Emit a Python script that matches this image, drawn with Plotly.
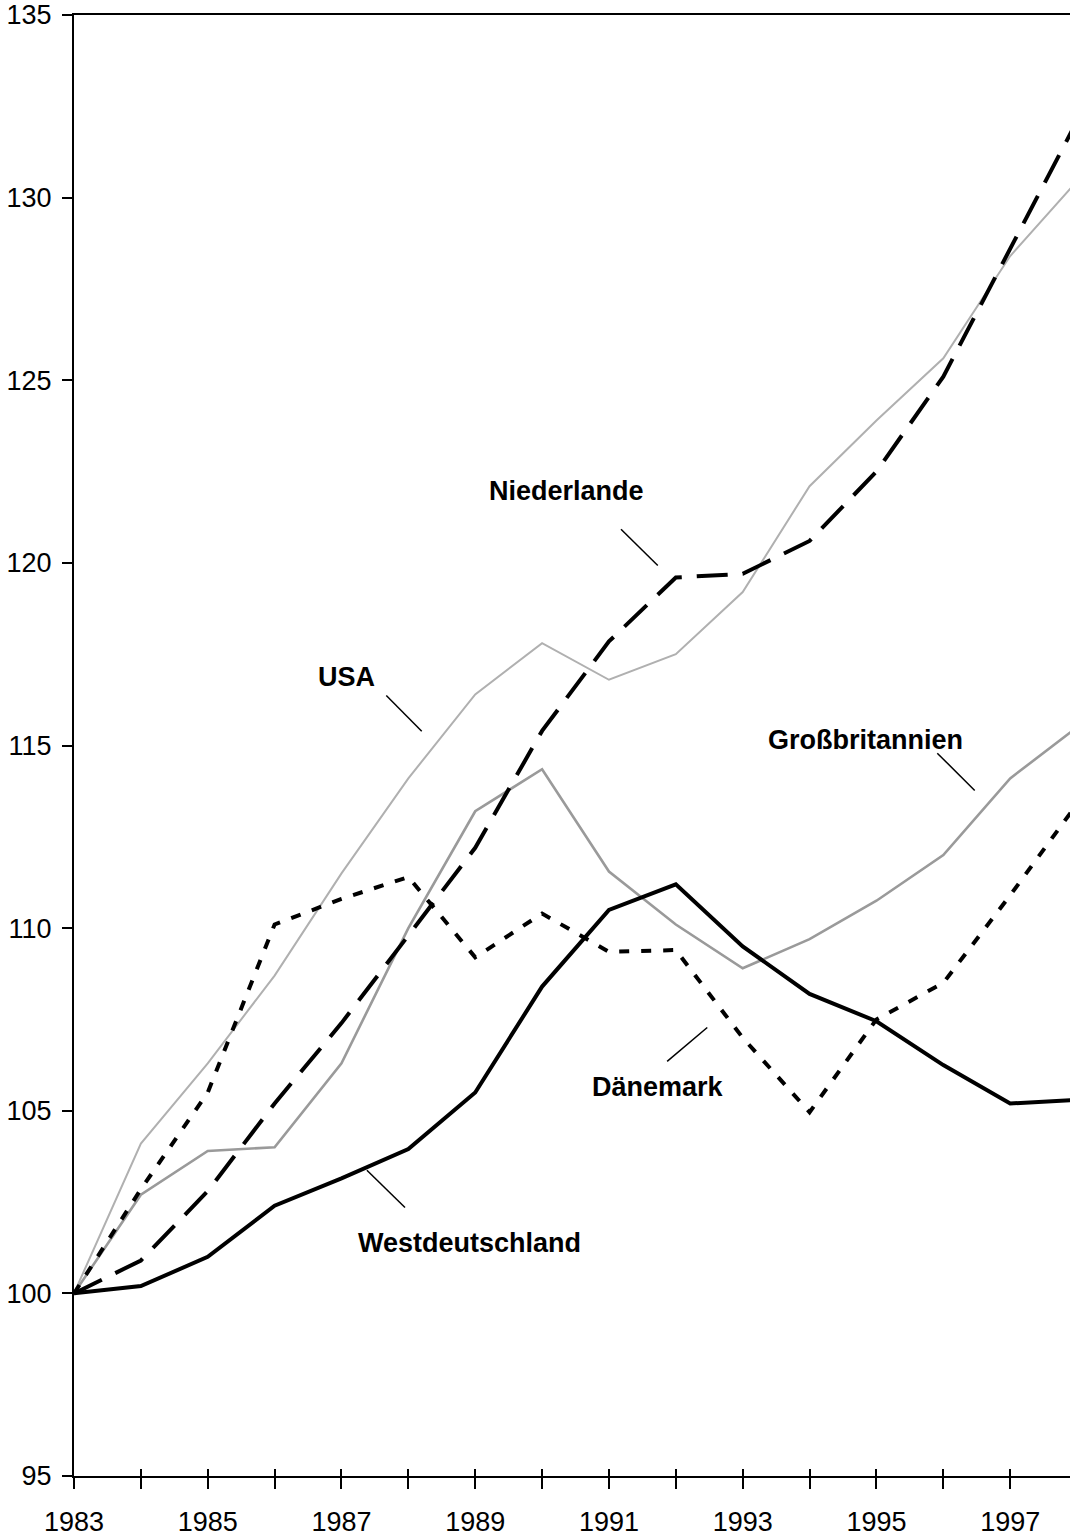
import plotly.graph_objects as go

years = list(range(1983, 1999))
westdeutschland = [100, 100.2, 101.0, 102.4, 103.15, 103.95, 105.5, 108.4, 110.5, 111.2, 109.5, 108.2, 107.45, 106.25, 105.2, 105.3]
niederlande = [100, 100.9, 102.8, 105.2, 107.4, 109.8, 112.2, 115.4, 117.85, 119.6, 119.7, 120.6, 122.5, 125.1, 128.6, 132.1]
usa = [100, 104.1, 106.3, 108.7, 111.5, 114.1, 116.4, 117.8, 116.8, 117.5, 119.2, 122.1, 123.9, 125.6, 128.4, 130.45]
grossbritannien = [100, 102.7, 103.9, 104.0, 106.3, 110.0, 113.2, 114.35, 111.55, 110.1, 108.9, 109.7, 110.75, 112.0, 114.1, 115.5]
daenemark = [100, 102.85, 105.5, 110.1, 110.8, 111.4, 109.2, 110.4, 109.35, 109.4, 107.0, 104.96, 107.5, 108.5, 110.9, 113.4]

x_tick_labels = [str(y) if (y - 1983) % 2 == 0 else "" for y in years]
y_ticks = [95, 100, 105, 110, 115, 120, 125, 130, 135]

# label texts, positions (data coords) and leader lines
labels = [
    ("Niederlande", 1990.37, 121.96, (1991.18, 120.92, 1991.73, 119.93)),
    ("USA", 1987.08, 116.87, (1987.67, 116.37, 1988.20, 115.39)),
    ("Großbritannien", 1994.84, 115.14, (1995.91, 114.79, 1996.47, 113.77)),
    ("Dänemark", 1991.73, 105.64, (1992.47, 107.28, 1991.87, 106.35)),
    ("Westdeutschland", 1988.92, 101.37, (1987.38, 103.37, 1987.95, 102.35)),
]

FONT = "Liberation Sans, Arial, Helvetica, sans-serif"

fig = go.Figure()
fig.add_trace(go.Scatter(x=years, y=usa, mode="lines",
                         line=dict(color="#b0b0b0", width=2), name="USA"))
fig.add_trace(go.Scatter(x=years, y=grossbritannien, mode="lines",
                         line=dict(color="#9a9a9a", width=2.6), name="Großbritannien"))
fig.add_trace(go.Scatter(x=years, y=daenemark, mode="lines",
                         line=dict(color="black", width=4, dash="10px,12px"), name="Dänemark"))
fig.add_trace(go.Scatter(x=years, y=niederlande, mode="lines",
                         line=dict(color="black", width=4, dash="31px,15px"), name="Niederlande"))
fig.add_trace(go.Scatter(x=years, y=westdeutschland, mode="lines",
                         line=dict(color="black", width=4), name="Westdeutschland"))
# invisible trace to host the overlay axis (inner half of x ticks)
fig.add_trace(go.Scatter(x=[years[0]], y=[westdeutschland[0]], xaxis="x2", mode="markers",
                         marker=dict(opacity=0), hoverinfo="skip"))

for text, lx, ly, (x0, y0, x1, y1) in labels:
    fig.add_annotation(x=lx, y=ly, text="<b>" + text + "</b>", showarrow=False,
                       font=dict(family=FONT, size=27, color="black"),
                       xanchor="center", yanchor="middle")
    fig.add_shape(type="line", x0=x0, y0=y0, x1=x1, y1=y1,
                  line=dict(color="black", width=1.5))

x_range = [1983, 1983 + 996 / 66.87]

fig.update_layout(
    width=1070, height=1537,
    margin=dict(l=74, r=0, t=15, b=61),
    paper_bgcolor="white", plot_bgcolor="white",
    showlegend=False,
    font=dict(family=FONT, size=26, color="black"),
    xaxis=dict(range=x_range, tickvals=years, ticktext=x_tick_labels,
               showgrid=False, zeroline=False, showline=True, linecolor="black",
               linewidth=2, mirror=True, ticks="outside", ticklen=11, tickwidth=2,
               tickcolor="black", ticklabelstandoff=10,
               tickfont=dict(family=FONT, size=27, color="black")),
    xaxis2=dict(range=x_range, overlaying="x", anchor="y", side="bottom",
                tickvals=years, showticklabels=False, showgrid=False, zeroline=False,
                showline=False, ticks="inside", ticklen=7, tickwidth=2, tickcolor="black"),
    yaxis=dict(range=[95, 135], tickvals=y_ticks, showgrid=False, zeroline=False,
               showline=True, linecolor="black", linewidth=2, ticks="outside",
               ticklen=10, tickwidth=2, tickcolor="black", ticklabelstandoff=5,
               tickfont=dict(family=FONT, size=27, color="black")),
)

fig.write_html(
    "out.html",
    config={"displayModeBar": False},
    post_script="document.body.style.margin='0';document.body.style.padding='0';"
                "document.documentElement.style.overflow='hidden';"
                "document.body.style.overflow='hidden';",
)
